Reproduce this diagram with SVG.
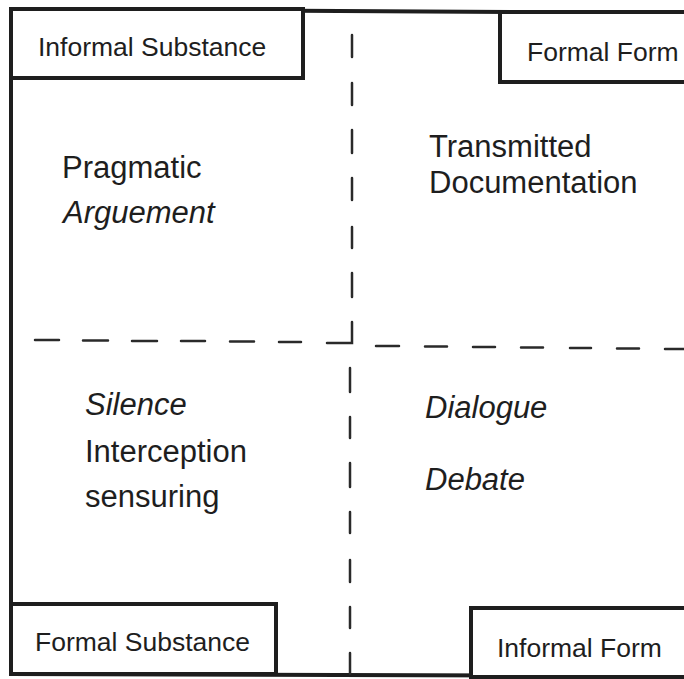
<svg xmlns="http://www.w3.org/2000/svg" width="684" height="679" viewBox="0 0 684 679">
<style>
.frame{fill:none;stroke:#1e1e1e;stroke-width:4;stroke-linejoin:miter}
.box{fill:#fff;stroke:#1e1e1e;stroke-width:4}
.dash{fill:none;stroke:#2a2a2a;stroke-width:2.5;stroke-linecap:round}
.lbl{font-family:"Liberation Sans",Arial,sans-serif;font-size:26.5px;fill:#1e1e1e}
.body{font-family:"Liberation Sans",Arial,sans-serif;font-size:31px;fill:#1e1e1e}
.it{font-style:italic}
</style>
<rect width="684" height="679" fill="#fff"/>
<g id="frame">
<path class="frame" d="M690 13 L11 9 L11 674 L690 676"/>
</g>
<g id="connectors">
<path class="dash" d="M352 35 V57 M352 83 V105 M352 130 V153 M352 178 V200 M352 227 V248 M352 273 V297 M352 322 V343 H327"/>
<path class="dash" d="M35 340 H59 M83 340.5 H108 M132 341 H157 M181 341 H205 M230 341.5 H254 M279 342 H301"/>
<path class="dash" d="M376 346 H399 M425 346.5 H447 M473 347 H495 M521 347.5 H543 M570 348 H591 M617 348.5 H639 M665 349 H684"/>
<path class="dash" d="M350 368 V392 M350 417 V438 M350 463 V487 M350 512 V533 M350 560 V582 M350 607 V628 M350 653 V674"/>
</g>
<g id="informal-substance">
<path class="box" d="M11 9 H303 V78 H11 Z"/>
<text class="lbl" x="38" y="56">Informal Substance</text>
</g>
<g id="formal-form">
<path class="box" d="M700 12 H500 V82 H700"/>
<text class="lbl" x="527" y="61">Formal Form</text>
</g>
<g id="formal-substance">
<path class="box" d="M11 604 H276 V674 H11 Z"/>
<text class="lbl" x="35" y="651">Formal Substance</text>
</g>
<g id="informal-form">
<path class="box" d="M700 608 H471 V677 H700"/>
<text class="lbl" x="497" y="657">Informal Form</text>
</g>
<g id="q-top-left">
<text class="body" x="62" y="178">Pragmatic</text>
<text class="body it" x="63" y="223">Arguement</text>
</g>
<g id="q-top-right">
<text class="body" x="429" y="157">Transmitted</text>
<text class="body" x="429" y="193">Documentation</text>
</g>
<g id="q-bottom-left">
<text class="body it" x="85" y="415">Silence</text>
<text class="body" x="85" y="462">Interception</text>
<text class="body" x="85" y="507">sensuring</text>
</g>
<g id="q-bottom-right">
<text class="body it" x="425" y="418">Dialogue</text>
<text class="body it" x="425" y="490">Debate</text>
</g>
</svg>
